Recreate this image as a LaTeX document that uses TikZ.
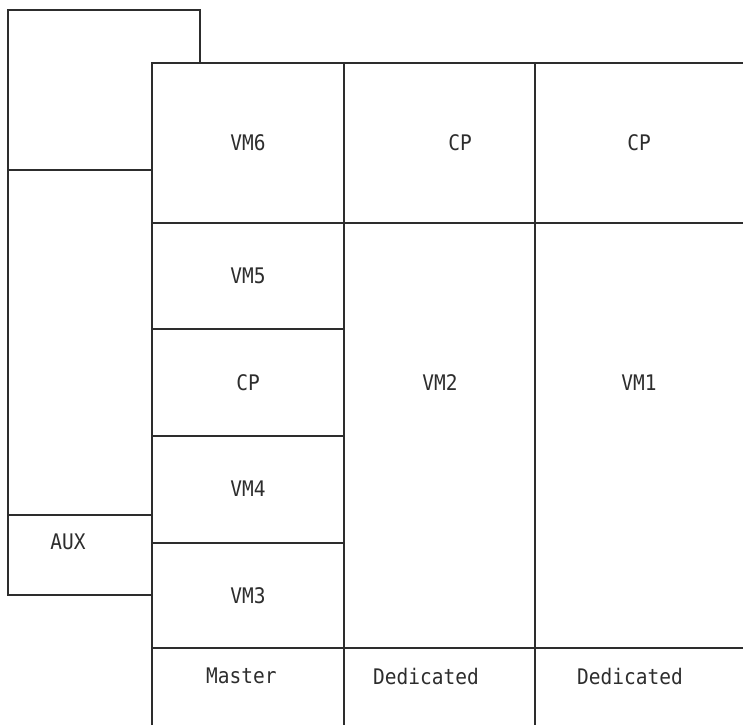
\documentclass[tikz,border=0pt]{standalone}
\usepackage{fontspec}
\setmonofont{DejaVu Sans Mono}
\usepackage{xcolor}
\definecolor{gridgray}{RGB}{45,45,45}
\usepackage{tikz}
\usetikzlibrary{calc}
\tikzset{
    grid/.style={draw=gridgray, line width=1.2pt},
    cell/.style={font=\ttfamily\fontsize{19.5}{21}\selectfont, text=gridgray, inner sep=0pt, yscale=1.1},
    foot/.style={cell, anchor=west}
}

\begin{document}
\begin{tikzpicture}[x=1pt, y=-1pt]
      \useasboundingbox (0,0) rectangle (743,725);

      % outer aux frame
      \draw[grid] (152,595) -- (8,595) -- (8,10) -- (200,10) -- (200,63);
      \draw[grid] (8,170) -- (152,170) (8,515) -- (152,515);

      % main columns
      \draw[grid] (152,725) -- (152,63) -- (743,63);
      \draw[grid] (344,63) -- (344,725) (535,63) -- (535,725);
      \draw[grid] (152,223) -- (743,223) (152,648) -- (743,648);
      \draw[grid] (152,329) -- (344,329) (152,436) -- (344,436) (152,543) -- (344,543);

      \path
          node[cell] (vm6) at (248,143) {VM6}
          node[cell] (vm5) at (248,276) {VM5}
          node[cell] (cp-a) at (248,383) {CP}
          node[cell] (vm4) at (248,489) {VM4}
          node[cell] (vm3) at (248,596) {VM3}
          node[cell] (cp-b) at (460,143) {CP}
          node[cell] (vm2) at (440,383) {VM2}
          node[cell] (cp-c) at (639,143) {CP}
          node[cell] (vm1) at (639,383) {VM1}
          node[cell] (aux) at (68,542) {AUX};

      \path
          node[foot] (master) at (206,676) {Master}
          node[foot] (ded-b) at (373,676) {Dedicated}
          node[foot] (ded-c) at (577,676) {Dedicated};
\end{tikzpicture}
\end{document}
